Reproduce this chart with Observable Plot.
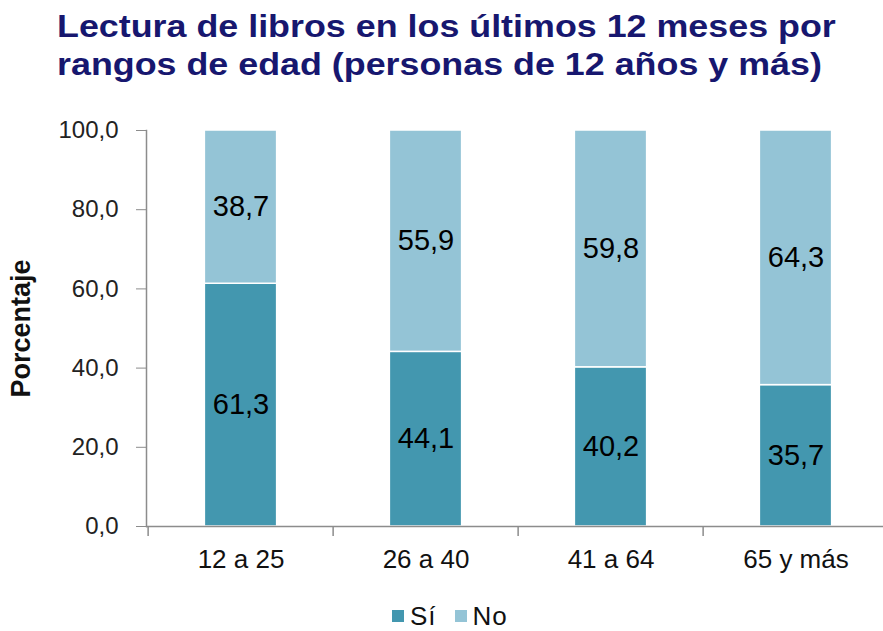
<!DOCTYPE html>
<html><head><meta charset="utf-8">
<script src="https://cdn.jsdelivr.net/npm/d3@7"></script>
<script src="https://cdn.jsdelivr.net/npm/@observablehq/plot@0.6"></script>
<style>
body{margin:0;background:#fff;font-family:"Liberation Sans",Arial,sans-serif;}
#wrap{position:relative;width:883px;height:631px;overflow:hidden;background:#fff;}
#title{position:absolute;left:57px;top:7px;color:#17176f;font-weight:bold;font-size:32px;line-height:38px;transform:scaleX(1.12);transform-origin:0 0;white-space:nowrap;}
#chart{position:absolute;left:0;top:100px;}
#legend{position:absolute;top:601px;left:392px;display:flex;align-items:center;font-size:26px;line-height:30px;letter-spacing:1px;color:#111;}
#legend .sw{width:12px;height:12px;display:inline-block;margin-right:6px;}
#legend .it{display:flex;align-items:center;margin-right:18px;}
</style></head>
<body>
<div id="wrap">
  <div id="title">Lectura de libros en los últimos 12 meses por<br>rangos de edad (personas de 12 años y más)</div>
  <div id="chart"></div>
  <div id="legend"></div>
</div>
<script>
const categories = ["12 a 25", "26 a 40", "41 a 64", "65 y más"];
const series = ["Sí", "No"];
const si = [61.3, 44.1, 40.2, 35.7];
const no = [38.7, 55.9, 59.8, 64.3];
const yTicks = [0, 20, 40, 60, 80, 100];
const colors = ["#4397af", "#94c4d6"];

const rows = [];
categories.forEach((c, i) => {
  rows.push({grupo: c, respuesta: series[0], valor: si[i]});
  rows.push({grupo: c, respuesta: series[1], valor: no[i]});
});

const fmt = d => d.toFixed(1).replace(".", ",");
const W = 883, H = 480, mL = 146, rangeR = 889;
const step = (rangeR - mL) / categories.length;
const barW = 73;
const inset = (step - barW) / 2;

const chart = Plot.plot({
  width: W, height: H,
  marginLeft: mL, marginRight: 0, marginTop: 30, marginBottom: 54,
  style: {fontFamily: '"Liberation Sans", Arial, sans-serif', background: "#fff"},
  x: {type: "band", domain: categories, range: [mL, rangeR], padding: 0},
  y: {domain: [0, 100]},
  color: {domain: series, range: colors},
  marks: [
    Plot.barY(rows, {x: "grupo", y: "valor", fill: "respuesta", insetLeft: inset, insetRight: inset, stroke: "white", strokeWidth: 1.5}),
    Plot.text(rows, Plot.stackY({x: "grupo", y: "valor", text: d => fmt(d.valor), fontSize: 29, fill: "#000", letterSpacing: 1})),
    Plot.frame({anchor: "left", stroke: "#8c8c8c", strokeWidth: 1.5}),
    Plot.ruleY([0], {stroke: "#8c8c8c", strokeWidth: 1.5}),
    Plot.ruleX(categories, {x: d => d, y1: 0, y2: 0, dx: -step / 2, insetBottom: -10, stroke: "#8c8c8c", strokeWidth: 1.5}),
    Plot.axisY({ticks: yTicks, tickFormat: fmt, tickSize: 10, tickPadding: 18, fontSize: 24, letterSpacing: 1.5, stroke: "#8c8c8c", fill: "#222",
      label: null}),
    Plot.axisY({ticks: [], label: "Porcentaje", labelAnchor: "center", labelOffset: 136, labelArrow: "none", fontSize: 27, fontWeight: "bold", fill: "#111"}),
    Plot.axisX({tickSize: 0, tickPadding: 23, fontSize: 26, letterSpacing: 1.5, fill: "#111", label: null})
  ]
});
document.getElementById("chart").appendChild(chart);

const leg = document.getElementById("legend");
series.forEach((s, i) => {
  const it = document.createElement("div");
  it.className = "it";
  const sw = document.createElement("span");
  sw.className = "sw";
  sw.style.background = colors[i];
  it.appendChild(sw);
  it.appendChild(document.createTextNode(s));
  leg.appendChild(it);
});
</script>
</body></html>
